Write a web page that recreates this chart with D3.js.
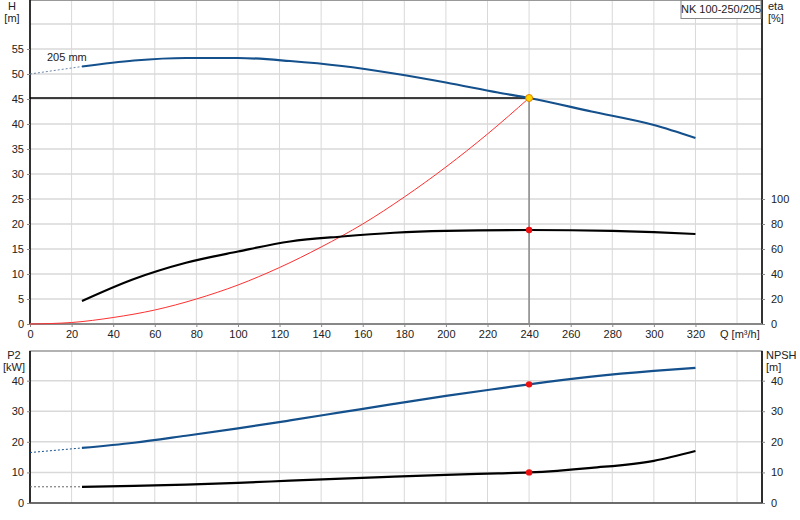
<!DOCTYPE html><html><head><meta charset="utf-8"><script src="https://cdn.jsdelivr.net/npm/d3@7"></script>
<style>body{margin:0;background:#fff}text{font-family:Arial,"Liberation Sans",sans-serif;font-size:11px;fill:#222}</style></head><body><svg id="c" width="800" height="520"></svg><script>
const qTicks=[0,20,40,60,80,100,120,140,160,180,200,220,240,260,280,300,320];
const hTicks=[0,5,10,15,20,25,30,35,40,45,50,55];
const etaTicks=[0,20,40,60,80,100];
const pTicks=[0,10,20,30,40];
const headQ=[25,50,75,100,125,150,175,200,225,240,270,300,320];
const headH=[51.5,52.7,53.2,53.2,52.6,51.6,50.1,48.3,46.3,45.2,42.5,39.8,37.2];
const headDashQ=[0,25], headDashH=[50,51.5];
const etaQ=[25,50,75,100,125,150,175,200,240,280,300,320];
const etaV=[18.4,36,49,58,66,70,73,74.5,75.2,74.5,73.5,72];
const sysQ=[0,20,40,60,80,100,120,140,160,180,200,220,240];
const sysH=[0,0.3,1.3,2.8,5,7.8,11.3,15.4,20,25.4,31.4,38,45.2];
const p2Q=[25,50,75,100,125,150,175,200,225,240,270,300,320];
const p2V=[18,19.7,22,24.4,27,29.7,32.4,35,37.4,38.8,41.3,43.2,44.2];
const p2DashQ=[0,25], p2DashV=[16.5,18];
const npQ=[25,50,75,100,125,150,175,200,225,240,270,300,320];
const npV=[5.3,5.6,6.0,6.6,7.3,8.0,8.6,9.2,9.7,10,11.5,13.8,17];
const npDashQ=[0,25], npDashV=[5.3,5.3];
const dutyQ=240, dutyH=45.2, dutyEta=75.2, dutyP2=38.8, dutyNp=10;

const svg=d3.select("#c");
const x=d3.scaleLinear().domain([0,352]).range([30,762]);
const yH=d3.scaleLinear().domain([0,64.8]).range([324,0]);
const yE=d3.scaleLinear().domain([0,100]).range([324,199]);
const yP=d3.scaleLinear().domain([0,49.7]).range([503,351]);
const grid="#d9d9d9";
// top grid
const gt=svg.append("g");
qTicks.slice(1).concat([340]).forEach(q=>gt.append("line").attr("x1",x(q)).attr("x2",x(q)).attr("y1",0).attr("y2",324).attr("stroke",grid));
hTicks.slice(1).concat([60]).forEach(h=>gt.append("line").attr("x1",30).attr("x2",762).attr("y1",yH(h)).attr("y2",yH(h)).attr("stroke",grid).attr("stroke-width",1.5));
const gb=svg.append("g");
qTicks.slice(1).concat([340]).forEach(q=>gb.append("line").attr("x1",x(q)).attr("x2",x(q)).attr("y1",351).attr("y2",503).attr("stroke",grid));
pTicks.slice(1).forEach(v=>gb.append("line").attr("x1",30).attr("x2",762).attr("y1",yP(v)).attr("y2",yP(v)).attr("stroke",grid).attr("stroke-width",1.5));
// frames
svg.append("rect").attr("x",30).attr("y",0.5).attr("width",732).attr("height",323.5).attr("fill","none").attr("stroke","#999");
svg.append("rect").attr("x",30).attr("y",351).attr("width",732).attr("height",152).attr("fill","none").attr("stroke","#666");
svg.append("line").attr("x1",30).attr("x2",30).attr("y1",0).attr("y2",324).attr("stroke","#000").attr("stroke-width",1.5);
svg.append("line").attr("x1",762).attr("x2",762).attr("y1",0).attr("y2",324).attr("stroke","#000").attr("stroke-width",1.5);
svg.append("line").attr("x1",30).attr("x2",762).attr("y1",324).attr("y2",324).attr("stroke","#888").attr("stroke-width",2);
svg.append("line").attr("x1",30).attr("x2",30).attr("y1",351).attr("y2",503).attr("stroke","#000").attr("stroke-width",1.5);
svg.append("line").attr("x1",762).attr("x2",762).attr("y1",351).attr("y2",503).attr("stroke","#000").attr("stroke-width",1.5);
svg.append("line").attr("x1",30).attr("x2",762).attr("y1",503).attr("y2",503).attr("stroke","#555").attr("stroke-width",1.5);
// axes
const ax=(g,tr,a)=>{const s=svg.append("g").attr("transform",tr).call(a);s.select(".domain").remove();s.selectAll("line").attr("stroke","#888");s.selectAll("text").style("font-size","11px").attr("fill","#222");return s;};
ax(null,"translate(0,324)",d3.axisBottom(x).tickValues(qTicks).tickSize(3).tickFormat(d3.format("d")));
ax(null,"translate(30,0)",d3.axisLeft(yH).tickValues(hTicks).tickSize(3));
ax(null,"translate(762,0)",d3.axisRight(yE).tickValues(etaTicks).tickSize(3).tickPadding(6));
ax(null,"translate(30,0)",d3.axisLeft(yP).tickValues(pTicks).tickSize(3));
ax(null,"translate(762,0)",d3.axisRight(yP).tickValues(pTicks).tickSize(3).tickPadding(6));
const t=(s,xx,yy,a)=>svg.append("text").attr("x",xx).attr("y",yy).attr("text-anchor",a||"start").text(s);
t("H",12,10,"middle");t("[m]",12,22,"middle");t("eta",768,10);t("[%]",768,22);
t("P2",14,359,"middle");t("[kW]",14,371,"middle");t("NPSH",766,359);t("[m]",766,371);
t("Q [m³/h]",720,338);t("205 mm",47,61);
svg.append("rect").attr("x",681).attr("y",0.5).attr("width",80).attr("height",18).attr("fill","#fff").attr("stroke","#888");
t("NK 100-250/205",721,13,"middle");
// curves
const L=(Q,V,ys)=>d3.line().x((d,i)=>x(Q[i])).y((d,i)=>ys(V[i])).curve(d3.curveMonotoneX)(Q);
const path=(d,c,w,dash)=>svg.append("path").attr("d",d).attr("fill","none").attr("stroke",c).attr("stroke-width",w).attr("stroke-dasharray",dash||null);
path(L(sysQ,sysH,yH),"#ff3030",1);
svg.append("line").attr("x1",30).attr("x2",x(dutyQ)).attr("y1",yH(dutyH)).attr("y2",yH(dutyH)).attr("stroke","#000").attr("stroke-width",1.3);
svg.append("line").attr("x1",x(dutyQ)).attr("x2",x(dutyQ)).attr("y1",yH(dutyH)).attr("y2",324).attr("stroke","#888").attr("stroke-width",1.5);
path(L(headDashQ,headDashH,yH),"#6d87a8",1,"2,2");
path(L(headQ,headH,yH),"#14508c",2.2);
path(L(etaQ,etaV,yE),"#000",2.2);
path(L(p2DashQ,p2DashV,yP),"#14508c",1,"2,2");
path(L(p2Q,p2V,yP),"#14508c",2.2);
path(L(npDashQ,npDashV,yP),"#666",1,"2,2");
path(L(npQ,npV,yP),"#000",2.2);
svg.append("circle").attr("cx",x(dutyQ)).attr("cy",yH(dutyH)).attr("r",3.5).attr("fill","#ffd700").attr("stroke","#e08000");
[[yE,dutyEta],[yP,dutyP2],[yP,dutyNp]].forEach(([s,v])=>svg.append("circle").attr("cx",x(dutyQ)).attr("cy",s(v)).attr("r",3.2).attr("fill","#ee1010"));
</script></body></html>
